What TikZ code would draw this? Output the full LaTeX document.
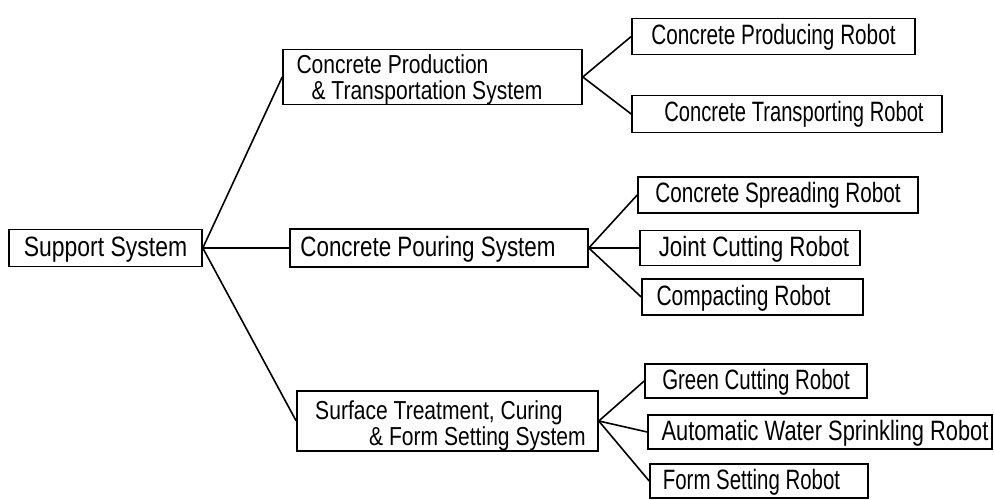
\documentclass[tikz,border=0pt]{standalone}
\usepackage{fontspec}
\setmainfont{Liberation Sans}
\usepackage{graphicx}
\newcommand\sq[2]{\scalebox{#1}[1]{#2}}
\begin{document}
\begin{tikzpicture}[x=1pt,y=-1pt,
  box/.style={draw, line width=1.6pt, inner sep=0pt, font=\fontsize{28}{24}\selectfont},
  one/.style={box, text height=19pt, text depth=3pt},
  two/.style={box, align=left, font=\fontsize{26}{26}\selectfont},
  link/.style={line width=1.6pt}]
\useasboundingbox (0,0) rectangle (994,500);
\fill[white] (0,0) rectangle (994,500);

\node[one, minimum width=193pt, minimum height=37pt] (sup) at (105.5,248) {\sq{0.82}{Support System}};

\node[two, minimum width=299pt, minimum height=55pt] (prod) at (432.5,77)
  {\rule{0pt}{23.5pt}\sq{0.81}{Concrete Production}\\\hspace*{15pt}\sq{0.81}{\& Transportation System}\rule{26pt}{0pt}};
\node[one, minimum width=298pt, minimum height=38pt] (pour) at (439,248) {\sq{0.80}{Concrete Pouring System}\hspace*{22pt}};
\node[two, minimum width=301pt, minimum height=60pt] (surf) at (447.5,421)
  {\rule{0pt}{28.5pt}\hspace*{6pt}\sq{0.81}{Surface Treatment, Curing}\\\hspace*{60pt}\sq{0.81}{\& Form Setting System}};

\node[one, minimum width=283pt, minimum height=36pt] (r1) at (773.5,36.5) {\sq{0.74}{Concrete Producing Robot}};
\node[one, minimum width=310pt, minimum height=37pt] (r2) at (787,114) {\hspace*{14pt}\sq{0.72}{Concrete Transporting Robot}};
\node[one, minimum width=280pt, minimum height=36pt] (r3) at (778,195) {\sq{0.74}{Concrete Spreading Robot}};
\node[one, minimum width=220pt, minimum height=35pt] (r4) at (750,248) {\hspace*{8pt}\sq{0.80}{Joint Cutting Robot}};
\node[one, minimum width=221pt, minimum height=36pt] (r5) at (752.5,297) {\sq{0.75}{Compacting Robot}\hspace*{18pt}};
\node[one, minimum width=222pt, minimum height=34pt] (r6) at (756,381) {\sq{0.73}{Green Cutting Robot}};
\node[one, minimum width=344pt, minimum height=34pt] (r7) at (820,432) {\hspace*{10pt}\sq{0.78}{Automatic Water Sprinkling Robot}};
\node[one, minimum width=218pt, minimum height=34pt] (r8) at (759,481) {\sq{0.73}{Form Setting Robot}\hspace*{15pt}};

\draw[link] (sup.east) -- (prod.west);
\draw[link] (sup.east) -- (pour.west);
\draw[link] (sup.east) -- (surf.west);
\draw[link] (prod.east) -- (r1.west);
\draw[link] (prod.east) -- (r2.west);
\draw[link] (pour.east) -- (r3.west);
\draw[link] (pour.east) -- (r4.west);
\draw[link] (pour.east) -- (r5.west);
\draw[link] (surf.east) -- (r6.west);
\draw[link] (surf.east) -- (r7.west);
\draw[link] (surf.east) -- (r8.west);
\end{tikzpicture}
\end{document}
